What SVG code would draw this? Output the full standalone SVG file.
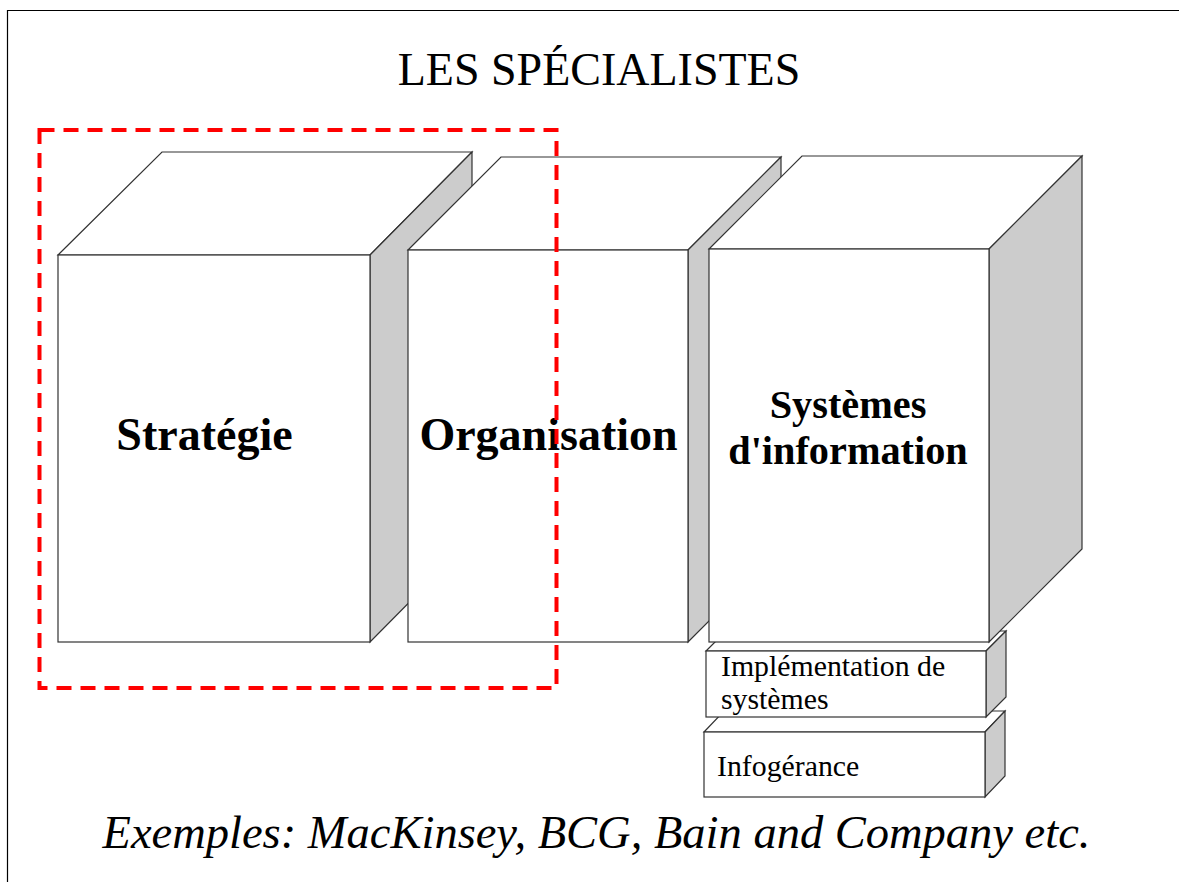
<svg xmlns="http://www.w3.org/2000/svg" width="1179" height="882" viewBox="0 0 1179 882">
<style>
.face{fill:#ffffff;stroke:#333333;stroke-width:1.2;stroke-linejoin:miter}
.side{fill:#cccccc;stroke:#333333;stroke-width:1.2}
.big{font-family:"Liberation Serif","Times New Roman",serif;font-weight:bold;fill:#000;text-anchor:middle}
.small{font-family:"Liberation Serif","Times New Roman",serif;font-size:29.8px;fill:#000}
.title{font-family:"Liberation Serif","Times New Roman",serif;font-size:46px;fill:#000;text-anchor:middle}
</style>
<rect x="0" y="0" width="1179" height="882" fill="#ffffff"/>
<path d="M7.5,882 V10.5 H1179" fill="none" stroke="#000" stroke-width="1.2"/>
<text class="title" x="599" y="85">LES SPÉCIALISTES</text>

<g id="strategie">
  <polygon class="face" points="58,255 162,152 472,152 370,255"/>
  <polygon class="side" points="370,255 472,152 472,539 370,642"/>
  <rect class="face" x="58" y="255" width="312" height="387"/>
  <text class="big" x="204.5" y="450" font-size="46">Stratégie</text>
</g>

<g id="organisation">
  <polygon class="face" points="408,250 501,157 781,157 688,250"/>
  <polygon class="side" points="688,250 781,157 781,549 688,642"/>
  <rect class="face" x="408" y="250" width="280" height="392"/>
  <text class="big" x="548.5" y="450" font-size="46">Organisation</text>
</g>

<g id="infogerance">
  <polygon class="face" points="704,732 724,711 1005,711 985,732"/>
  <polygon class="side" points="985,732 1005,711 1005,776 985,797"/>
  <rect class="face" x="704" y="732" width="281" height="65"/>
  <text class="small" x="717" y="776">Infogérance</text>
</g>

<g id="implementation">
  <polygon class="face" points="706,651 726,631 1006,631 986,651"/>
  <polygon class="side" points="986,651 1006,631 1006,697 986,717"/>
  <rect class="face" x="706" y="651" width="280" height="66"/>
  <text class="small" x="721" y="676">Implémentation de</text>
  <text class="small" x="721" y="709">systèmes</text>
</g>

<g id="systemes">
  <polygon class="face" points="709,249 802,156 1082,156 989,249"/>
  <polygon class="side" points="989,249 1082,156 1082,549 989,642"/>
  <rect class="face" x="709" y="249" width="280" height="393"/>
  <text class="big" x="848" y="418" font-size="40.3">Systèmes</text>
  <text class="big" x="848" y="464" font-size="40.3">d'information</text>
</g>

<g id="connectors"></g>

<g id="highlight">
  <rect x="39.5" y="130" width="517" height="558" fill="none" stroke="#ff0000" stroke-width="4" stroke-dasharray="15 9"/>
</g>

<text x="596.5" y="848" font-family="'Liberation Serif','Times New Roman',serif" font-style="italic" font-size="46.5" text-anchor="middle" fill="#000">Exemples: MacKinsey, BCG, Bain and Company etc.</text>
</svg>
